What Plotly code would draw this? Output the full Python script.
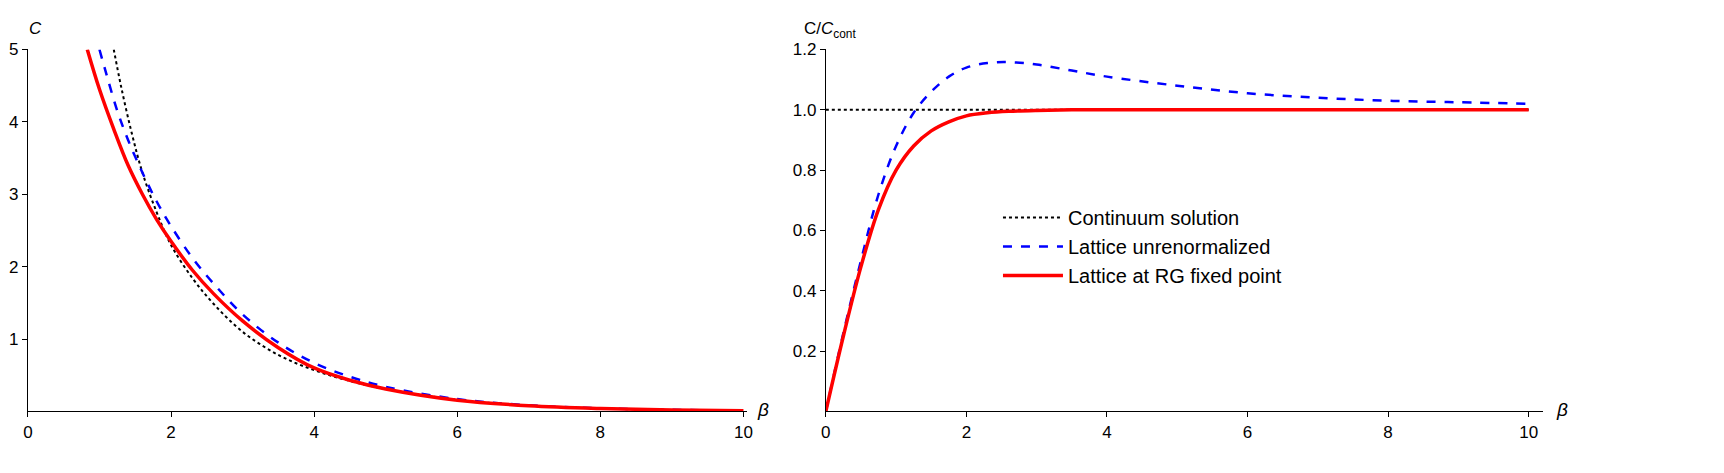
import plotly.graph_objects as go

# left panel: C(beta)
beta_cont = [1.2, 1.3, 1.45, 1.6, 1.8, 2.0, 2.3, 2.6, 3.0, 3.5, 4.0, 4.5, 5.0, 6.0, 7.0, 8.0, 9.0, 10.0]
c_cont = [5.0, 4.5, 3.85, 3.3, 2.75, 2.3, 1.84, 1.48, 1.1, 0.78, 0.57, 0.42, 0.31, 0.16, 0.08, 0.04, 0.02, 0.01]
beta_lat = [1.0, 1.1, 1.25, 1.4, 1.6, 1.8, 2.0, 2.3, 2.6, 3.0, 3.5, 4.0, 4.5, 5.0, 6.0, 7.0, 8.0, 9.0, 10.0]
c_lat = [5.0, 4.65, 4.15, 3.75, 3.3, 2.9, 2.56, 2.12, 1.76, 1.34, 0.95, 0.67, 0.48, 0.34, 0.17, 0.085, 0.043, 0.022, 0.011]
beta_rg = [0.83, 1.0, 1.2, 1.4, 1.6, 1.8, 2.0, 2.3, 2.6, 3.0, 3.5, 4.0, 4.5, 5.0, 6.0, 7.0, 8.0, 9.0, 10.0]
c_rg = [5.0, 4.45, 3.9, 3.4, 3.0, 2.65, 2.35, 1.95, 1.62, 1.25, 0.88, 0.6, 0.43, 0.31, 0.155, 0.078, 0.04, 0.02, 0.01]

# right panel: C / C_cont
r_beta = [0.0, 0.25, 0.5, 0.75, 1.0, 1.25, 1.5, 1.75, 2.0, 2.3, 2.6, 3.0, 3.5, 4.0, 5.0, 6.0, 7.0, 8.0, 9.0, 10.0]
r_lat = [0.0, 0.26, 0.5, 0.72, 0.88, 0.99, 1.06, 1.11, 1.14, 1.155, 1.158, 1.15, 1.13, 1.11, 1.08, 1.055, 1.04, 1.03, 1.025, 1.02]
r_rg = [0.0, 0.25, 0.48, 0.67, 0.8, 0.88, 0.93, 0.96, 0.98, 0.99, 0.995, 0.998, 1.0, 1.0, 1.0, 1.0, 1.0, 1.0, 1.0, 1.0]
r_cont_x = [0.0, 10.0]
r_cont = [1.0, 1.0]

fig = go.Figure()
dot = dict(color="black", width=2, dash="dot")
dash = dict(color="blue", width=2.5, dash="dash")
solid = dict(color="red", width=3.5)

fig.add_trace(go.Scatter(x=beta_cont, y=c_cont, mode="lines", line=dot, line_shape="spline", showlegend=False))
fig.add_trace(go.Scatter(x=beta_lat, y=c_lat, mode="lines", line=dash, line_shape="spline", showlegend=False))
fig.add_trace(go.Scatter(x=beta_rg, y=c_rg, mode="lines", line=solid, line_shape="spline", showlegend=False))

fig.add_trace(go.Scatter(x=r_cont_x, y=r_cont, mode="lines", line=dot, name="Continuum solution", xaxis="x2", yaxis="y2"))
fig.add_trace(go.Scatter(x=r_beta, y=r_lat, mode="lines", line=dash, line_shape="spline", name="Lattice unrenormalized", xaxis="x2", yaxis="y2"))
fig.add_trace(go.Scatter(x=r_beta, y=r_rg, mode="lines", line=solid, line_shape="spline", name="Lattice at RG fixed point", xaxis="x2", yaxis="y2"))

ax = dict(showgrid=False, zeroline=False, showline=True, linecolor="black", linewidth=1,
          ticks="outside", ticklen=5, tickcolor="black", tickfont=dict(size=17, color="black"))
fig.update_layout(
    width=1724, height=473, plot_bgcolor="white", paper_bgcolor="white",
    margin=dict(l=0, r=0, t=0, b=0),
    font=dict(family="Liberation Sans", size=17, color="black"),
    xaxis=dict(ax, domain=[0.0087, 0.4285], range=[0, 10.05], tickvals=[0, 2, 4, 6, 8, 10], anchor="y"),
    yaxis=dict(ax, domain=[0.15, 0.93], range=[0, 5.0], tickvals=[1, 2, 3, 4, 5], anchor="x"),
    xaxis2=dict(ax, domain=[0.4745, 0.893], range=[0, 10.2], tickvals=[0, 2, 4, 6, 8, 10], anchor="y2"),
    yaxis2=dict(ax, domain=[0.15, 0.93], range=[0, 1.2], tickvals=[0.2, 0.4, 0.6, 0.8, 1.0, 1.2],
                tickformat=".1f", anchor="x2"),
    legend=dict(x=0.575, y=0.61, xanchor="left", yanchor="top", font=dict(size=20),
                bgcolor="rgba(0,0,0,0)", tracegroupgap=12, itemwidth=60),
    annotations=[
        dict(text="<i>C</i>", x=0.013, y=1.0, xref="paper", yref="paper", xanchor="center", yanchor="top", showarrow=False, font=dict(size=17)),
        dict(text="<i>β</i>", x=0.438, y=0.155, xref="paper", yref="paper", xanchor="center", yanchor="middle", showarrow=False, font=dict(size=19)),
        dict(text="C/<i>C</i><sub>cont</sub>", x=0.477, y=1.0, xref="paper", yref="paper", xanchor="center", yanchor="top", showarrow=False, font=dict(size=17)),
        dict(text="<i>β</i>", x=0.904, y=0.155, xref="paper", yref="paper", xanchor="center", yanchor="middle", showarrow=False, font=dict(size=19)),
    ],
)
fig.write_html("out.html")
